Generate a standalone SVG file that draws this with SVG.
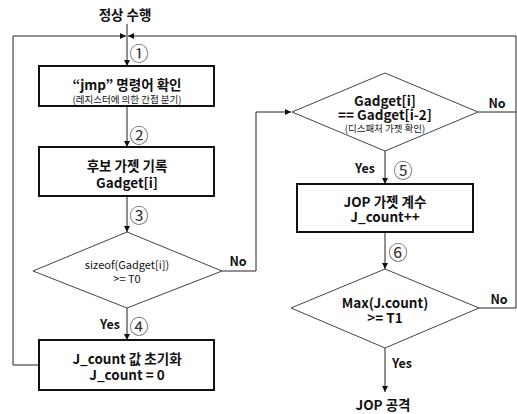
<svg xmlns="http://www.w3.org/2000/svg" width="517" height="414" viewBox="0 0 517 414">
  <defs>
    <marker id="arrow" viewBox="0 0 10 10" refX="10" refY="5" markerWidth="6" markerHeight="6" markerUnits="userSpaceOnUse" orient="auto">
      <path d="M0,0 L10,5 L0,10 z" fill="#111"/>
    </marker>
    <style>
      text { font-family: "Noto Sans CJK KR", "Open Sans", sans-serif; fill: #111; text-anchor: middle; dominant-baseline: central; }
      .box { fill: #fff; stroke: #111; stroke-width: 2; }
      .dia { fill: #fff; stroke: #444; stroke-width: 1; }
      .b { font-size: 13.5px; font-weight: bold; }
      .s { font-size: 9.5px; }
      .m { font-size: 11px; }
      .lbl { font-size: 12.5px; font-weight: bold; }
      .num { font-size: 19px; fill: #333; }
      .ln { fill: none; stroke: #222; stroke-width: 1; }
    </style>
  </defs>
  <rect width="517" height="414" fill="#fff"/>

  <!-- connectors -->
  <g id="connectors">
    <path class="ln" d="M127,24 V66" marker-end="url(#arrow)"/>
    <path class="ln" d="M127,106 V147" marker-end="url(#arrow)"/>
    <path class="ln" d="M127,196 V232" marker-end="url(#arrow)"/>
    <path class="ln" d="M127,308 V340" marker-end="url(#arrow)"/>
    <path class="ln" d="M39,365 H13 V36 H126" marker-end="url(#arrow)"/>
    <path class="ln" d="M222,271 H256 V112 H291" marker-end="url(#arrow)"/>
    <path class="ln" d="M385,151 V184" marker-end="url(#arrow)"/>
    <path class="ln" d="M385,232 V269" marker-end="url(#arrow)"/>
    <path class="ln" d="M385,348 V392" marker-end="url(#arrow)"/>
    <path class="ln" d="M479,308 H516 V36 H128" marker-end="url(#arrow)"/>
    <path class="ln" d="M478,112 H516"/>
  </g>

  <!-- step labels -->
  <g id="labels">
    <text class="b" x="125" y="14">정상 수행</text>
    <text class="num" x="139" y="52">①</text>
    <text class="num" x="139" y="134">②</text>
    <text class="num" x="139" y="214">③</text>
    <text class="num" x="139" y="325">④</text>
    <text class="num" x="403" y="169">⑤</text>
    <text class="num" x="398" y="251">⑥</text>
    <text class="lbl" x="238" y="260">No</text>
    <text class="lbl" x="110" y="323">Yes</text>
    <text class="lbl" x="365" y="167">Yes</text>
    <text class="lbl" x="497" y="102">No</text>
    <text class="lbl" x="499" y="298">No</text>
    <text class="lbl" x="402" y="362">Yes</text>
    <text class="b" x="383" y="404">JOP 공격</text>
  </g>

  <g id="check-jmp">
    <rect class="box" x="39" y="66" width="175" height="40"/>
    <text class="b" x="127" y="84">“jmp” 명령어 확인</text>
    <text class="s" x="127" y="99">(레지스터에 의한 간접 분기)</text>
  </g>

  <g id="record-gadget">
    <rect class="box" x="39" y="147" width="175" height="49"/>
    <text class="b" x="127" y="165">후보 가젯 기록</text>
    <text class="b" x="127" y="182">Gadget[i]</text>
  </g>

  <g id="size-check">
    <polygon class="dia" points="127,232 222,271 127,308 33,271"/>
    <text class="m" x="127" y="264">sizeof(Gadget[i])</text>
    <text class="m" x="127" y="278">&gt;=  T0</text>
  </g>

  <g id="reset-count">
    <rect class="box" x="39" y="340" width="175" height="50"/>
    <text class="b" x="127" y="358">J_count 값 초기화</text>
    <text class="b" x="127" y="374">J_count = 0</text>
  </g>

  <g id="dispatcher-check">
    <polygon class="dia" points="385,73 478,112 385,151 292,112"/>
    <text class="b" x="385" y="100">Gadget[i]</text>
    <text class="b" x="385" y="114">== Gadget[i-2]</text>
    <text class="s" x="385" y="128">(디스패처 가젯 확인)</text>
  </g>

  <g id="count-gadget">
    <rect class="box" x="297" y="184" width="176" height="48"/>
    <text class="b" x="385" y="201">JOP 가젯 계수</text>
    <text class="b" x="385" y="216">J_count++</text>
  </g>

  <g id="threshold-check">
    <polygon class="dia" points="385,269 479,308 385,348 291,308"/>
    <text class="b" x="385" y="302">Max(J.count)</text>
    <text class="b" x="385" y="317">&gt;= T1</text>
  </g>
</svg>
